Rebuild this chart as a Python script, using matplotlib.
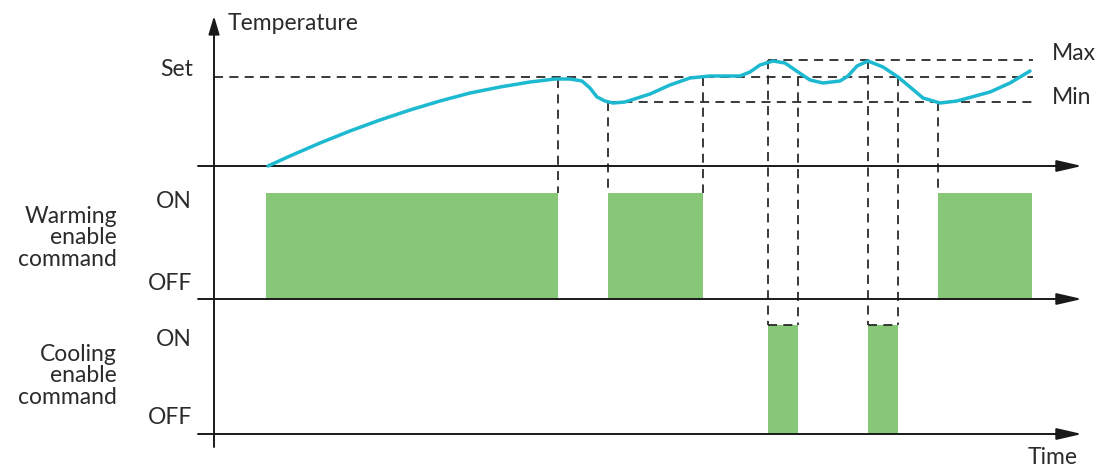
import matplotlib
matplotlib.use("Agg")
import matplotlib.pyplot as plt

plt.rcParams['font.family'] = ['Lato', 'DejaVu Sans']

# time / temperature (in drawing units)
curve_t = [268, 290, 320, 350, 380, 410, 440, 470, 500, 530, 555, 570, 582, 590,
           597, 605, 613, 625, 650, 670, 690, 710, 740, 750, 760, 773, 785, 798,
           810, 823, 840, 848, 857, 868, 883, 898, 910, 923, 940, 957, 990, 1010, 1030]
curve_temp = [166, 156, 143, 131, 120, 110, 101, 93, 87, 82, 79, 79, 81, 88,
              97, 101, 103, 102, 94, 85, 78, 76, 76, 72, 65, 61, 63, 72,
              80, 83, 81, 76, 66, 61, 67, 77, 87, 98, 103, 101, 92, 83, 71]

set_level = 77
max_level = 60
min_level = 102

# warming ON intervals (start, end)
warm_on = [(266, 558), (608, 703), (938, 1032)]
# cooling ON intervals
cool_on = [(768, 798), (868, 898)]

# dashed guide lines: (time, top level, bottom level)
guides = [(558, 79, 193), (608, 102, 193), (703, 77, 193), (938, 102, 193),
          (768, 60, 325), (798, 77, 325), (868, 60, 325), (898, 77, 325)]

axis_x0 = 214
temp_axis = 166
warm_axis = 299
cool_axis = 434
on_warm = 193
on_cool = 325

ink = '#2a2a2a'
cyan = '#1cb9d0'
green = '#86c878'

fig = plt.figure(figsize=(11.02, 4.68), dpi=100)
ax = fig.add_axes([0, 0, 1, 1])
ax.set_xlim(0, 1102)
ax.set_ylim(468, 0)
ax.axis('off')

# bars
for a, b in warm_on:
    ax.fill_between([a, b], on_warm, warm_axis, color=green, lw=0)
for a, b in cool_on:
    ax.fill_between([a, b], on_cool, cool_axis, color=green, lw=0)

# reference levels
dash = dict(color=ink, lw=1.3, ls=(0, (5, 3.5)))
ax.plot([axis_x0, 1033], [set_level, set_level], **dash)
ax.plot([768, 1033], [max_level, max_level], **dash)
ax.plot([608, 1033], [min_level, min_level], **dash)
for t, top, bot in guides:
    ax.plot([t, t], [top, bot], **dash)
# short horizontal dashes on cooling ON level
for a, b in cool_on:
    ax.plot([a, b], [on_cool, on_cool], **dash)

# temperature curve
ax.plot(curve_t, curve_temp, color=cyan, lw=2.5, solid_capstyle='round',
        solid_joinstyle='round', zorder=5)

# axes with arrows
arr = dict(arrowstyle='-|>,head_length=1.4,head_width=0.32', color='#1a1a1a',
           lw=1.4, mutation_scale=11, shrinkA=0, shrinkB=0)
for y in (temp_axis, warm_axis, cool_axis):
    ax.annotate('', xy=(1082, y), xytext=(198, y), arrowprops=arr)
arr_v = dict(arr)
arr_v['arrowstyle'] = '-|>,head_length=1.0,head_width=0.3'
ax.annotate('', xy=(axis_x0, 16), xytext=(axis_x0, 447), arrowprops=arr_v)

fs = 16.5
tc = '#2b2b2b'
ax.text(228, 23, 'Temperature', fontsize=fs, color=tc, ha='left', va='center')
ax.text(193, 70, 'Set', fontsize=fs, color=tc, ha='right', va='center')
ax.text(1052, 53, 'Max', fontsize=fs, color=tc, ha='left', va='center')
ax.text(1052, 97, 'Min', fontsize=fs, color=tc, ha='left', va='center')
ax.text(192, 201, 'ON', fontsize=fs, color=tc, ha='right', va='center')
ax.text(192, 284, 'OFF', fontsize=fs, color=tc, ha='right', va='center')
ax.text(192, 340, 'ON', fontsize=fs, color=tc, ha='right', va='center')
ax.text(192, 418, 'OFF', fontsize=fs, color=tc, ha='right', va='center')
ax.text(117, 238, 'Warming\nenable\ncommand', fontsize=fs, color=tc, ha='right',
        va='center', linespacing=1.03, multialignment='right')
ax.text(117, 376, 'Cooling\nenable\ncommand', fontsize=fs, color=tc, ha='right',
        va='center', linespacing=1.03, multialignment='right')
ax.text(1078, 458, 'Time', fontsize=fs, color=tc, ha='right', va='center')

fig.savefig('out.png', dpi=100)
